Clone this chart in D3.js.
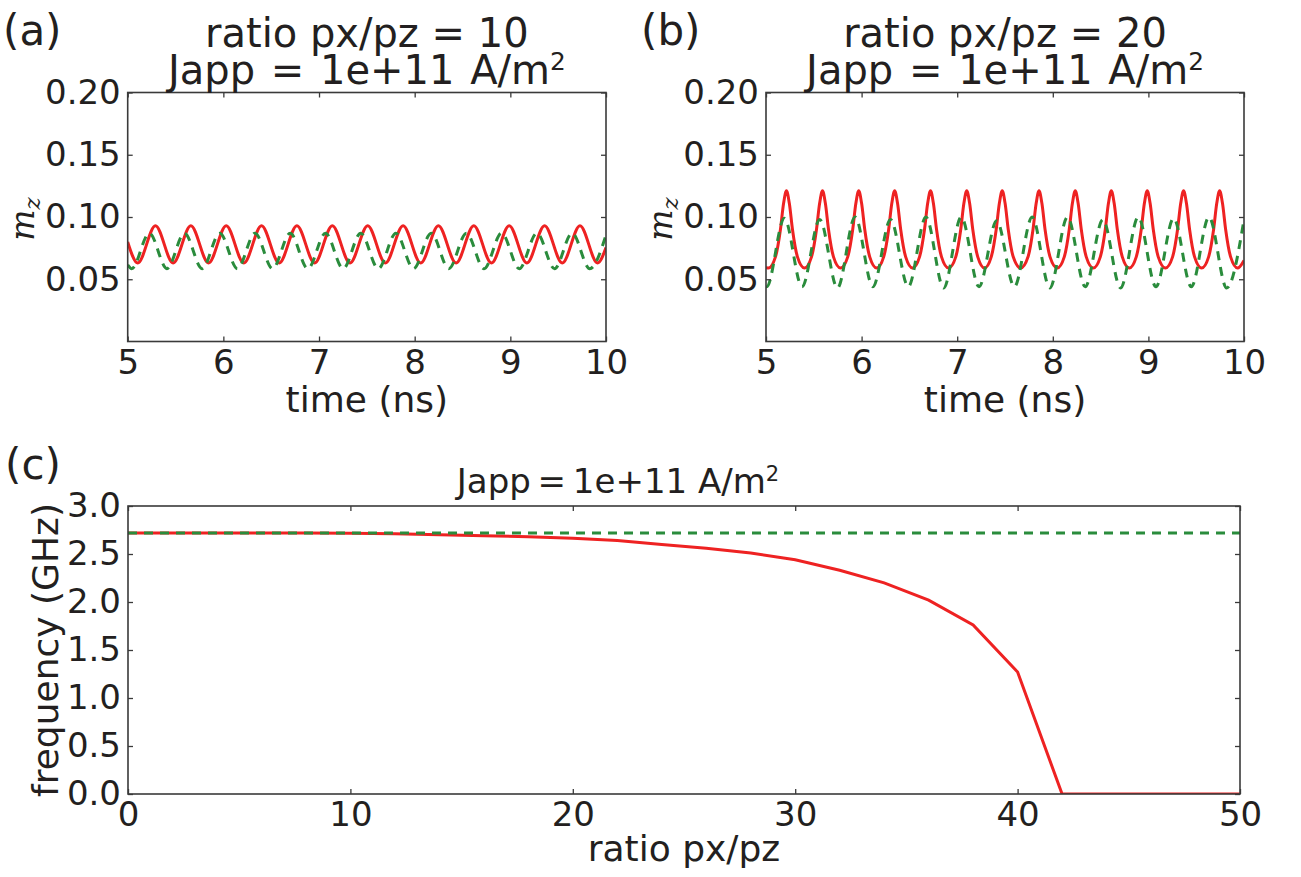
<!DOCTYPE html>
<html><head><meta charset="utf-8">
<script src="https://cdn.jsdelivr.net/npm/d3@7"></script>
<style>
body{margin:0;background:#fff}
text{font-family:"DejaVu Sans",sans-serif;fill:#231f20}
</style>
</head><body>
<svg id="fig" width="1301" height="877"></svg>
<script>
// ---------- data ----------
const timeTicks = [5, 6, 7, 8, 9, 10];
const mzTicks = [0.05, 0.10, 0.15, 0.20];
const ratioTicks = [0, 10, 20, 30, 40, 50];
const freqTicks = [0.0, 0.5, 1.0, 1.5, 2.0, 2.5, 3.0];

const titleA = ["ratio px/pz = 10", "Japp = 1e+11 A/m"];
const titleB = ["ratio px/pz = 20", "Japp = 1e+11 A/m"];
const titleC = "Japp\u2009=\u20091e+11 A/m";
const unitSup = "2";

// panel (a): time (ns), m_z
const redA = [[5.000,0.080],[5.105,0.063],[5.290,0.093],[5.475,0.063],[5.660,0.093],[5.845,0.063],[6.030,0.093],[6.214,0.063],[6.399,0.093],[6.584,0.063],[6.769,0.093],[6.954,0.063],[7.139,0.093],[7.324,0.063],[7.509,0.093],[7.694,0.063],[7.879,0.093],[8.063,0.063],[8.248,0.093],[8.433,0.063],[8.618,0.093],[8.803,0.063],[8.988,0.093],[9.173,0.063],[9.358,0.093],[9.543,0.063],[9.728,0.093],[9.912,0.063],[10.000,0.0755]];
const greenA = [[5.000,0.0615],[5.042,0.0585],[5.226,0.087],[5.410,0.0585],[5.594,0.087],[5.778,0.0585],[5.963,0.087],[6.147,0.0585],[6.331,0.087],[6.515,0.0585],[6.699,0.087],[6.883,0.0585],[7.068,0.087],[7.252,0.0585],[7.436,0.087],[7.620,0.0585],[7.804,0.087],[7.988,0.0585],[8.173,0.087],[8.357,0.0585],[8.541,0.087],[8.725,0.0585],[8.909,0.087],[9.093,0.0585],[9.278,0.087],[9.462,0.0585],[9.646,0.087],[9.830,0.0585],[10.000,0.0855]];

// panel (b)
const redB = [[5.000,0.0595],[5.025,0.059],
[5.099,0.068],[5.151,0.090],[5.184,0.111],[5.214,0.121],[5.244,0.111],[5.277,0.090],[5.329,0.068],[5.403,0.059],
[5.476,0.068],[5.528,0.090],[5.561,0.111],[5.591,0.121],[5.621,0.111],[5.654,0.090],[5.706,0.068],[5.780,0.059],
[5.855,0.068],[5.907,0.090],[5.940,0.111],[5.970,0.121],[6.000,0.111],[6.033,0.090],[6.085,0.068],[6.158,0.059],
[6.231,0.068],[6.283,0.090],[6.316,0.111],[6.346,0.121],[6.376,0.111],[6.409,0.090],[6.461,0.068],[6.534,0.059],
[6.606,0.068],[6.658,0.090],[6.691,0.111],[6.721,0.121],[6.751,0.111],[6.784,0.090],[6.836,0.068],[6.910,0.059],
[6.985,0.068],[7.037,0.090],[7.070,0.111],[7.100,0.121],[7.130,0.111],[7.163,0.090],[7.215,0.068],[7.286,0.059],
[7.356,0.068],[7.408,0.090],[7.441,0.111],[7.471,0.121],[7.501,0.111],[7.534,0.090],[7.586,0.068],[7.664,0.059],
[7.741,0.068],[7.793,0.090],[7.826,0.111],[7.856,0.121],[7.886,0.111],[7.919,0.090],[7.971,0.068],[8.046,0.059],
[8.120,0.068],[8.172,0.090],[8.205,0.111],[8.235,0.121],[8.265,0.111],[8.298,0.090],[8.350,0.068],[8.424,0.059],
[8.497,0.068],[8.549,0.090],[8.582,0.111],[8.612,0.121],[8.642,0.111],[8.675,0.090],[8.727,0.068],[8.800,0.059],
[8.873,0.068],[8.925,0.090],[8.958,0.111],[8.988,0.121],[9.018,0.111],[9.051,0.090],[9.103,0.068],[9.178,0.059],
[9.253,0.068],[9.305,0.090],[9.338,0.111],[9.368,0.121],[9.398,0.111],[9.431,0.090],[9.483,0.068],[9.557,0.059],
[9.630,0.068],[9.682,0.090],[9.715,0.111],[9.745,0.121],[9.775,0.111],[9.808,0.090],[9.860,0.068],[9.934,0.059],
[10.000,0.065]];
const greenB = [[5.000,0.0441],[5.007,0.044],[5.192,0.099],[5.377,0.044],[5.562,0.098],[5.747,0.043],[5.932,0.100],[6.118,0.044],[6.303,0.098],[6.488,0.044],[6.673,0.100],[6.858,0.043],[7.043,0.100],[7.228,0.044],[7.413,0.097],[7.598,0.044],[7.784,0.100],[7.969,0.043],[8.154,0.100],[8.339,0.044],[8.524,0.098],[8.709,0.043],[8.894,0.100],[9.079,0.044],[9.264,0.099],[9.449,0.044],[9.634,0.100],[9.819,0.043],[10.000,0.098]];

// panel (c): ratio px/pz vs frequency (GHz)
const ratios = [0,2,4,6,8,10,12,14,16,18,20,22,24,26,28,30,32,34,36,38,40,42,44,46,48,50];
const freqRed = [2.72,2.72,2.72,2.72,2.72,2.715,2.71,2.70,2.69,2.68,2.665,2.64,2.60,2.56,2.51,2.44,2.33,2.20,2.02,1.76,1.27,0,0,0,0,0];
const freqGreen = [2.72,2.72,2.72,2.72,2.72,2.72,2.72,2.72,2.72,2.72,2.72,2.72,2.72,2.72,2.72,2.72,2.72,2.72,2.72,2.72,2.72,2.72,2.72,2.72,2.72,2.72];

// ---------- drawing ----------
const RED = "#ee2222", GREEN = "#2a8c3c", SPINE = "#3a3a3a";
const svg = d3.select("#fig");
const defs = svg.append("defs");
const TICKFS = 34;

function panel(id, box, xDom, yDom, xTicks, yTicks, yFmt, series, curve) {
  const x = d3.scaleLinear().domain(xDom).range([box.x0, box.x1]);
  const y = d3.scaleLinear().domain(yDom).range([box.y1, box.y0]);
  defs.append("clipPath").attr("id", "clip" + id).append("rect")
    .attr("x", box.x0).attr("y", box.y0).attr("width", box.x1 - box.x0).attr("height", box.y1 - box.y0);
  const g = svg.append("g");
  const plot = g.append("g").attr("clip-path", `url(#clip${id})`);
  series.forEach(s => {
    plot.append("path").datum(s.data)
      .attr("fill", "none").attr("stroke", s.color).attr("stroke-width", 3)
      .attr("stroke-dasharray", s.dash || null)
      .attr("d", d3.line().x(d => x(d[0])).y(d => y(d[1])).curve(curve));
  });
  const styleAxis = sel => {
    sel.select(".domain").remove();
    sel.selectAll("line").attr("stroke", SPINE).attr("stroke-width", 1.3);
    sel.selectAll("text").attr("font-size", TICKFS).attr("fill", "#231f20")
      .style("font-family", '"DejaVu Sans", sans-serif');
  };
  g.append("g").attr("transform", `translate(0,${box.y1})`)
    .call(d3.axisBottom(x).tickValues(xTicks).tickSizeInner(-5).tickSizeOuter(0).tickPadding(8).tickFormat(d3.format("d")))
    .call(styleAxis);
  g.append("g").attr("transform", `translate(0,${box.y0})`)
    .call(d3.axisTop(x).tickValues(xTicks).tickSizeInner(-5).tickSizeOuter(0).tickFormat(""))
    .call(styleAxis);
  g.append("g").attr("transform", `translate(${box.x0},0)`)
    .call(d3.axisLeft(y).tickValues(yTicks).tickSizeInner(-5).tickSizeOuter(0).tickPadding(7).tickFormat(d3.format(yFmt)))
    .call(styleAxis);
  g.append("g").attr("transform", `translate(${box.x1},0)`)
    .call(d3.axisRight(y).tickValues(yTicks).tickSizeInner(-5).tickSizeOuter(0).tickFormat(""))
    .call(styleAxis);
  g.append("rect").attr("x", box.x0).attr("y", box.y0)
    .attr("width", box.x1 - box.x0).attr("height", box.y1 - box.y0)
    .attr("fill", "none").attr("stroke", SPINE).attr("stroke-width", 1.6);
  return {x, y, g};
}

const boxA = {x0: 127.7, x1: 606, y0: 92.5, y1: 341.5};
const boxB = {x0: 766, x1: 1244, y0: 92.5, y1: 341.5};
const boxC = {x0: 128, x1: 1240, y0: 506, y1: 794};

panel("a", boxA, [5, 10], [0, 0.2], timeTicks, mzTicks, ".2f",
  [{data: redA, color: RED}, {data: greenA, color: GREEN, dash: "9,7"}], d3.curveMonotoneX);
panel("b", boxB, [5, 10], [0, 0.2], timeTicks, mzTicks, ".2f",
  [{data: redB, color: RED}, {data: greenB, color: GREEN, dash: "9,7"}], d3.curveMonotoneX);
const redC = ratios.map((r, i) => [r, freqRed[i]]);
const greenC = ratios.map((r, i) => [r, freqGreen[i]]);
panel("c", boxC, [0, 50], [0, 3], ratioTicks, freqTicks, ".1f",
  [{data: redC, color: RED}, {data: greenC, color: GREEN, dash: "9,7"}], d3.curveLinear);

// ---------- texts ----------
function txt(x, y, s, fs, anchor, rot) {
  const t = svg.append("text").attr("x", x).attr("y", y).attr("font-size", fs)
    .attr("text-anchor", anchor || "middle").text(s);
  if (rot) t.attr("transform", `rotate(${rot},${x},${y})`);
  return t;
}
function supTxt(x, y, s, fs, sup) {
  const t = svg.append("text").attr("x", x).attr("y", y).attr("font-size", fs)
    .attr("text-anchor", "middle");
  t.append("tspan").text(s);
  t.append("tspan").attr("font-size", fs * 0.62).attr("dy", -fs * 0.36).text(sup);
  return t;
}
// panel letters
txt(3, 45, "(a)", 42, "start");
txt(641, 45, "(b)", 42, "start");
txt(5, 479, "(c)", 42, "start");
// titles
txt((boxA.x0 + boxA.x1) / 2, 47, titleA[0], 40);
supTxt((boxA.x0 + boxA.x1) / 2, 84, titleA[1], 40, unitSup).attr("word-spacing", 3);
txt((boxB.x0 + boxB.x1) / 2, 47, titleB[0], 40);
supTxt((boxB.x0 + boxB.x1) / 2, 84, titleB[1], 40, unitSup).attr("word-spacing", 3);
supTxt(618, 493, titleC, 34, unitSup);
// axis labels
txt((boxA.x0 + boxA.x1) / 2, 412, "time (ns)", 36);
txt((boxB.x0 + boxB.x1) / 2, 412, "time (ns)", 36);
txt((boxC.x0 + boxC.x1) / 2, 861, "ratio px/pz", 36);
txt(58, (boxC.y0 + boxC.y1) / 2, "frequency (GHz)", 36, "middle", -90);
// m_z labels (math italic)
function mz(x, y) {
  const t = svg.append("text").attr("x", x).attr("y", y).attr("text-anchor", "middle")
    .attr("transform", `rotate(-90,${x},${y})`)
    .style("font-family", '"DejaVu Serif", "Liberation Serif", serif').style("font-style", "italic");
  t.append("tspan").attr("font-size", 33).text("m");
  t.append("tspan").attr("font-size", 23).attr("dy", 6).text("z");
}
mz(34, 219);
mz(672, 219);
</script>
</body></html>
